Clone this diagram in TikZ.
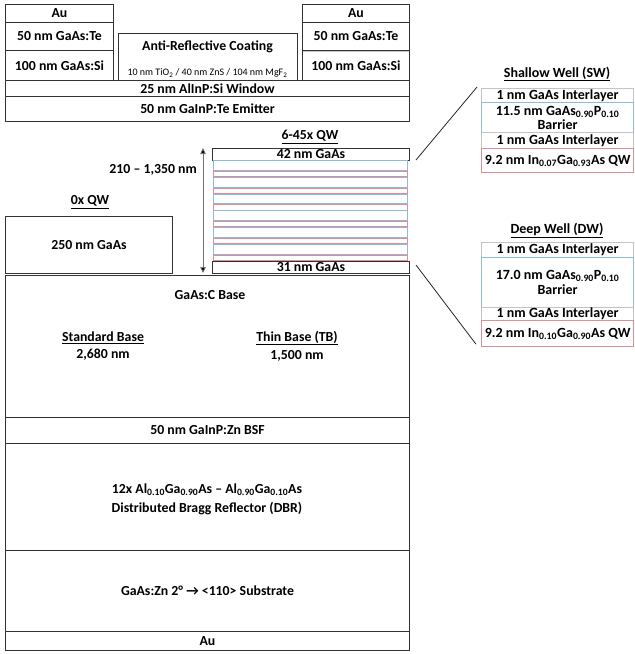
\documentclass[tikz,border=0pt]{standalone}
\usepackage{fontspec}
\setmainfont{Carlito}
\usetikzlibrary{arrows.meta}
\definecolor{lblue}{HTML}{8DBAE3}
\definecolor{lred}{HTML}{E58C8F}
\definecolor{lgray}{HTML}{C4C4C4}
\definecolor{edge}{HTML}{333333}
\begin{document}
\begin{tikzpicture}[x=1pt,y=-1pt,
  txt/.style={font=\bfseries\fontsize{13.8}{15}\selectfont, inner sep=0pt, align=center},
  rtxt/.style={font=\bfseries\fontsize{14}{15}\selectfont, inner sep=0pt, align=center},
  lay/.style={txt, draw=edge, line width=1pt, anchor=north west},
  blay/.style={rtxt, draw=lblue, line width=1.2pt, anchor=north west},
  rlay/.style={rtxt, draw=lred, line width=1.2pt, anchor=north west},
  glay/.style={rtxt, draw=lgray, line width=1.2pt, anchor=north west},
  conn/.style={draw=black!85, line width=0.8pt}]
\useasboundingbox (0,0) rectangle (635,654);

% top contacts left
\node[lay, minimum width=108, minimum height=18] (auL) at (5,4) {Au};
\node[lay, minimum width=108, minimum height=28] (teL) at (5,22) {50 nm GaAs:Te};
\node[lay, minimum width=108, minimum height=30] (siL) at (5,50) {100 nm GaAs:Si};
% ARC
\node[lay, minimum width=179, minimum height=47] (arc) at (118,33) {};
\node[txt] (arct) at (207.5,47) {Anti-Reflective Coating};
\node[inner sep=0pt, font=\fontsize{10}{11}\selectfont] (arcs) at (207.5,73) {10 nm TiO\textsubscript{2} / 40 nm ZnS / 104 nm MgF\textsubscript{2}};
% top contacts right
\node[lay, minimum width=107, minimum height=18] (auR) at (302,4) {Au};
\node[lay, minimum width=107, minimum height=28] (teR) at (302,22) {50 nm GaAs:Te};
\node[lay, minimum width=107, minimum height=30] (siR) at (302,50) {100 nm GaAs:Si};
\draw[lgray, line width=1pt] (siR.north west) ++(0.5,1.2) -- ++(106,0);
% window, emitter
\node[lay, minimum width=404, minimum height=16] (win) at (5,80) {25 nm AlInP:Si Window};
\node[lay, minimum width=404, minimum height=25] (emi) at (5,96) {50 nm GaInP:Te Emitter};

% QW stack
\node[txt] (qwt) at (310,137) {\underline{6-45x QW}};
\node[lay, minimum width=197, minimum height=12] (top42) at (212,148) {42 nm GaAs};
\foreach \i in {0,...,5}{
  \pgfmathsetmacro{\ya}{160.6+\i*16.75}
  \pgfmathsetmacro{\yb}{\ya+9.6}
  \pgfmathsetmacro{\yc}{\ya+10.8}
  \pgfmathsetmacro{\yd}{\ya+16.0}
  \draw[lblue, line width=0.9pt] (213.5,\ya) rectangle (407.5,\yb);
  \draw[lred, line width=0.9pt] (213.5,\yc) rectangle (407.5,\yd);
}
\node[lay, minimum width=197, minimum height=12] (bot31) at (212,261) {31 nm GaAs};
\coordinate (arrT) at (203,148);
\coordinate (arrB) at (203,273);
\draw[draw=black!55, line width=0.8pt, {Triangle[length=6pt,width=5.5pt,fill=black]}-{Triangle[length=6pt,width=5.5pt,fill=black]}] (arrT) -- (arrB);
\node[txt, anchor=east] (thick) at (197,170) {210 -- 1,350 nm};

% 0x QW
\node[txt] (q0t) at (90,202) {\underline{0x QW}};
\node[lay, minimum width=167, minimum height=57] (g250) at (5,216) {250 nm GaAs};

% base
\node[lay, minimum width=404, minimum height=142] (base) at (5,275) {};
\node[txt] (baset) at (210,295) {GaAs:C Base};
\node[txt] (sbt) at (103,338) {\underline{Standard Base}};
\node[txt] (sbv) at (103,355) {2,680 nm};
\node[txt] (tbt) at (297,338) {\underline{Thin Base (TB)}};
\node[txt] (tbv) at (297,356) {1,500 nm};
\node[lay, minimum width=404, minimum height=26] (bsf) at (5,417) {50 nm GaInP:Zn BSF};
\node[lay, minimum width=404, minimum height=107] (dbr) at (5,443) {};
\node[txt] (dbr1) at (207,490) {12x Al\textsubscript{0.10}Ga\textsubscript{0.90}As -- Al\textsubscript{0.90}Ga\textsubscript{0.10}As};
\node[txt] (dbr2) at (207,509) {Distributed Bragg Reflector (DBR)};
\node[lay, minimum width=404, minimum height=81] (sub) at (5,550) {GaAs:Zn 2° → <110> Substrate};
\node[lay, minimum width=404, minimum height=19] (auB) at (5,631) {Au};

% Shallow well
\node[rtxt] (swt) at (557,74) {\underline{Shallow Well (SW)}};
\node[glay, minimum width=152, minimum height=14] (sw1) at (481,88) {1 nm GaAs Interlayer};
\node[blay, minimum width=152, minimum height=30, font=\bfseries\fontsize{14}{14}\selectfont] (sw2) at (481,102) {11.5 nm GaAs\textsubscript{0.90}P\textsubscript{0.10}\\Barrier};
\node[glay, minimum width=152, minimum height=16] (sw3) at (481,132) {1 nm GaAs Interlayer};
\node[rlay, minimum width=152, minimum height=24] (sw4) at (481,148) {9.2 nm In\textsubscript{0.07}Ga\textsubscript{0.93}As QW};

% Deep well
\node[rtxt] (dwt) at (557,230) {\underline{Deep Well (DW)}};
\node[glay, minimum width=152, minimum height=15] (dw1) at (481,242) {1 nm GaAs Interlayer};
\node[blay, minimum width=152, minimum height=50, font=\bfseries\fontsize{14}{15}\selectfont] (dw2) at (481,257) {17.0 nm GaAs\textsubscript{0.90}P\textsubscript{0.10}\\Barrier};
\node[glay, minimum width=152, minimum height=13] (dw3) at (481,307) {1 nm GaAs Interlayer};
\node[rlay, minimum width=152, minimum height=26] (dw4) at (481,320) {9.2 nm In\textsubscript{0.10}Ga\textsubscript{0.90}As QW};

% zoom connectors
\coordinate (zt1) at ([shift={(6,12)}]top42.north east);
\coordinate (zt2) at ([shift={(-4,-1)}]sw1.north west);
\coordinate (zb1) at ([shift={(6,4)}]bot31.north east);
\coordinate (zb2) at ([shift={(-5,-3)}]dw4.south west);
\draw[conn] (zt1) -- (zt2);
\draw[conn] (zb1) -- (zb2);
\end{tikzpicture}
\end{document}
